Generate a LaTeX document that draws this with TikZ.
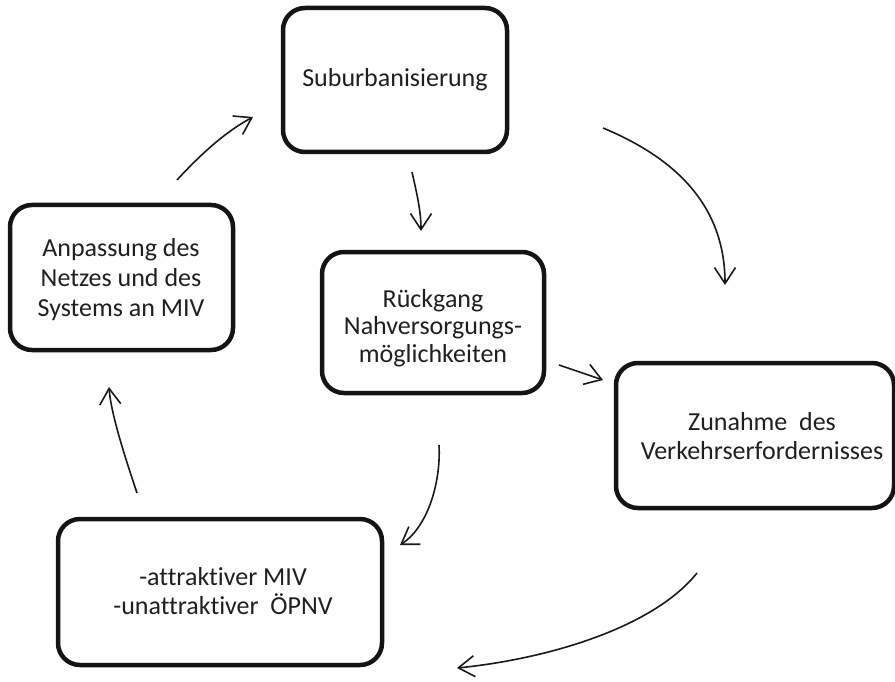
\documentclass[tikz,border=0pt]{standalone}
\usepackage{fontspec}
\setmainfont{Carlito}[Ligatures={NoCommon}]
\usetikzlibrary{arrows.meta}
\begin{document}
\begin{tikzpicture}[x=1pt,y=-1pt,
  boxstyle/.style={draw=black!92, line width=4.5pt, rounded corners=22pt, inner sep=0pt},
  txt/.style={align=center, inner sep=0pt, text=black!88, font=\fontsize{26}{29.3}\selectfont},
  conn/.style={line width=1.6pt, black!90, -{Straight Barb[length=16pt,width=21pt,line width=1.6pt]}}]
\useasboundingbox (0,0) rectangle (895,682);
% boxes
\node[boxstyle, minimum width=224pt, minimum height=144pt] (b1) at (395,80) {};
\node[boxstyle, minimum width=223pt, minimum height=145pt] (b2) at (121.5,277.5) {};
\node[boxstyle, minimum width=222pt, minimum height=141pt] (b3) at (433,322.5) {};
\node[boxstyle, minimum width=278pt, minimum height=145pt] (b4) at (755,435.5) {};
\node[boxstyle, minimum width=324pt, minimum height=146pt] (b5) at (220,592) {};
% texts
\node[txt] (t1) at (395,80) {Suburbanisierung};
\node[txt, font=\fontsize{26}{30}\selectfont] (t2) at (121,280) {Anpassung des\\Netzes und des\\Systems an MIV};
\node[txt, font=\fontsize{26}{27.5}\selectfont] (t3) at (433,328) {Rückgang\\Nahversorgungs-\\möglichkeiten};
\node[txt] (t4) at (762,436) {Zunahme\ \ des\\Verkehrserfordernisses};
\node[txt, font=\fontsize{26}{28.3}\selectfont] (t5) at (223,591) {-attraktiver MIV\\-unattraktiver\ \ ÖPNV};
% connector end points
\coordinate (a1s) at (603,128);  \coordinate (a1e) at (725,285);
\coordinate (a2s) at (412,172);  \coordinate (a2e) at (421,231);
\coordinate (a3s) at (559,365);  \coordinate (a3e) at (603,380);
\coordinate (a4s) at (439,445);  \coordinate (a4e) at (400,545);
\coordinate (a5s) at (697,573);  \coordinate (a5e) at (457,668);
\coordinate (a6s) at (137,493);  \coordinate (a6e) at (109,387);
\coordinate (a7s) at (177,180);  \coordinate (a7e) at (253,117);
% connectors
\draw[conn] (a1s) .. controls (668,155) and (725,200) .. (a1e);
\draw[conn] (a2s) .. controls (416,190) and (421,210) .. (a2e);
\draw[conn] (a3s) -- (a3e);
\draw[conn] (a4s) .. controls (441,480) and (429,526) .. (a4e);
\draw[conn] (a5s) .. controls (653,628) and (547,659) .. (a5e);
\draw[conn] (a6s) .. controls (127,463) and (111,415) .. (a6e);
\draw[conn] (a7s) .. controls (200,155) and (225,132) .. (a7e);
\end{tikzpicture}
\end{document}
